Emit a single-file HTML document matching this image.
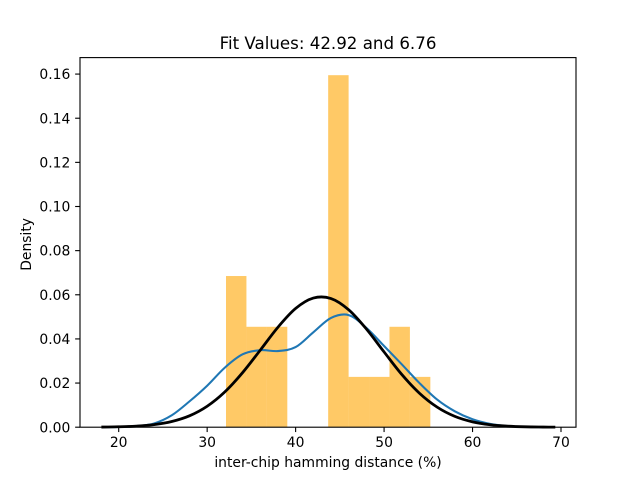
<!DOCTYPE html>
<html>
<head>
<meta charset="utf-8">
<style>
html,body{margin:0;padding:0;background:#fff;width:640px;height:480px;overflow:hidden}
svg{display:block}
text{font-family:"DejaVu Sans",sans-serif;fill:#000}
</style>
</head>
<body>
<svg id="chart" width="640" height="480" viewBox="0 0 640 480" xmlns="http://www.w3.org/2000/svg">
<rect x="0" y="0" width="640" height="480" fill="#fff"/>
<g id="bars"></g>
<path id="kde" fill="none" stroke="#1f77b4" stroke-width="2.08" stroke-linecap="square"/>
<path id="fit" fill="none" stroke="#000" stroke-width="2.78" stroke-linecap="square"/>
<g id="xticks"></g>
<g id="yticks"></g>
<rect x="80" y="57.6" width="496" height="369.6" fill="none" stroke="#000" stroke-width="1.11"/>
<text x="328" y="49" font-size="16.67" text-anchor="middle">Fit Values: 42.92 and 6.76</text>
<text x="328" y="467" font-size="13.89" text-anchor="middle">inter-chip hamming distance (%)</text>
<text x="0" y="0" font-size="13.89" text-anchor="middle" transform="translate(31 244.4) rotate(-90)">Density</text>
</svg>
<script>
const xTickValues = [20, 30, 40, 50, 60, 70];
const yTickValues = [0, 0.02, 0.04, 0.06, 0.08, 0.10, 0.12, 0.14, 0.16];
const yTickLabels = ["0.00", "0.02", "0.04", "0.06", "0.08", "0.10", "0.12", "0.14", "0.16"];
const binEdges = [32.13, 34.44, 36.75, 39.06, 41.37, 43.68, 45.99, 48.3, 50.61, 52.92, 55.23];
const binDensity = [0.0685, 0.0455, 0.0455, 0, 0, 0.1595, 0.0228, 0.0228, 0.0455, 0.0228];
const kdeX = [18.2, 20, 22, 24, 26, 28, 30, 32, 34, 36, 38, 40, 42, 44, 46, 48, 50, 52, 54, 56, 58, 60, 62, 64, 66, 68, 69.2];
const kdeY = [0.00005, 0.0001, 0.0005, 0.0017, 0.0054, 0.0117, 0.0188, 0.027, 0.033, 0.0349, 0.0345, 0.0363, 0.043, 0.0495, 0.0508, 0.045, 0.0368, 0.0285, 0.02, 0.0125, 0.0072, 0.0036, 0.0015, 0.0005, 0.00015, 0.00004, 0.00002];
const fitX = [18.2, 20, 22, 24, 26, 28, 30, 32, 34, 36, 38, 40, 42, 44, 46, 48, 50, 52, 54, 56, 58, 60, 62, 64, 66, 68, 69.2];
const fitY = [0.00007, 0.00019, 0.00049, 0.00117, 0.00258, 0.00516, 0.0095, 0.016, 0.0247, 0.0349, 0.0453, 0.0538, 0.0585, 0.0583, 0.0532, 0.0445, 0.0341, 0.0239, 0.0154, 0.0091, 0.0049, 0.00243, 0.0011, 0.00046, 0.00017, 0.00006, 0.00003];

function xScale(v) { return 118.7 + (v - 20) * 8.846; }
function yScale(v) { return 427.2 - v * 2207; }

const NS = 'http://www.w3.org/2000/svg';

function smoothPath(xs, ys) {
  const p = xs.map(function (x, i) { return [xScale(x), yScale(ys[i])]; });
  const slope = p.map(function (pt, i) {
    const a = p[Math.max(i - 1, 0)], b = p[Math.min(i + 1, p.length - 1)];
    return (b[1] - a[1]) / (b[0] - a[0]);
  });
  let d = 'M' + p[0][0].toFixed(2) + ' ' + p[0][1].toFixed(2);
  for (let i = 0; i < p.length - 1; i++) {
    const b = p[i], c = p[i + 1], h = (c[0] - b[0]) / 3;
    d += 'C' + (b[0] + h).toFixed(2) + ' ' + (b[1] + slope[i] * h).toFixed(2) + ' ' + (c[0] - h).toFixed(2) + ' ' + (c[1] - slope[i + 1] * h).toFixed(2) + ' ' + c[0].toFixed(2) + ' ' + c[1].toFixed(2);
  }
  return d;
}

const barsGroup = document.getElementById('bars');
binDensity.forEach(function (v, i) {
  if (v <= 0) return;
  const x0 = xScale(binEdges[i]), x1 = xScale(binEdges[i + 1]);
  const r = document.createElementNS(NS, 'rect');
  
  
  r.setAttribute('x', x0);
  r.setAttribute('y', yScale(v));
  r.setAttribute('width', x1 - x0);
  r.setAttribute('height', yScale(0) - yScale(v));
  r.setAttribute('fill', '#ffa500');
  r.setAttribute('fill-opacity', '0.6');
  barsGroup.appendChild(r);
});

document.getElementById('kde').setAttribute('d', smoothPath(kdeX, kdeY));
document.getElementById('fit').setAttribute('d', smoothPath(fitX, fitY));

const xTicksGroup = document.getElementById('xticks');
xTickValues.forEach(function (v) {
  const x = xScale(v);
  const t = document.createElementNS(NS, 'line');
  
  
  t.setAttribute('x1', x);
  t.setAttribute('x2', x);
  t.setAttribute('y1', 427.2);
  t.setAttribute('y2', 432.06);
  t.setAttribute('stroke', '#000');
  t.setAttribute('stroke-width', '1.11');
  xTicksGroup.appendChild(t);
  const l = document.createElementNS(NS, 'text');
  
  
  l.setAttribute('x', x);
  l.setAttribute('y', 447);
  l.setAttribute('font-size', '13.89');
  l.setAttribute('text-anchor', 'middle');
  l.textContent = String(v);
  xTicksGroup.appendChild(l);
});

const yTicksGroup = document.getElementById('yticks');
yTickValues.forEach(function (v, i) {
  const y = yScale(v);
  const t = document.createElementNS(NS, 'line');
  
  
  t.setAttribute('x1', 75.14);
  t.setAttribute('x2', 80);
  t.setAttribute('y1', y);
  t.setAttribute('y2', y);
  t.setAttribute('stroke', '#000');
  t.setAttribute('stroke-width', '1.11');
  yTicksGroup.appendChild(t);
  const l = document.createElementNS(NS, 'text');
  
  
  l.setAttribute('x', 70.3);
  l.setAttribute('y', y + 5.1);
  l.setAttribute('font-size', '13.89');
  l.setAttribute('text-anchor', 'end');
  l.textContent = yTickLabels[i];
  yTicksGroup.appendChild(l);
});
</script>
</body>
</html>
